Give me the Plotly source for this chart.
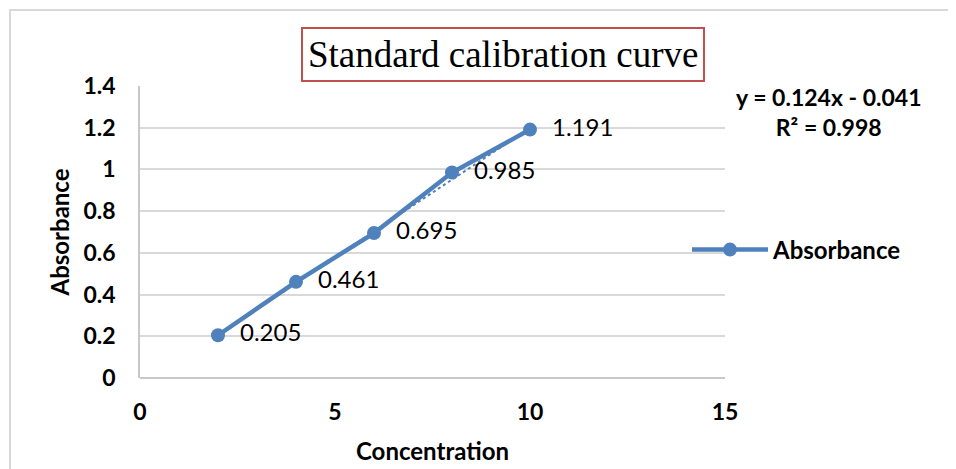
import plotly.graph_objects as go

# calibration data
concentration = [2, 4, 6, 8, 10]
absorbance = [0.205, 0.461, 0.695, 0.985, 1.191]
label_text = ["0.205", "0.461", "0.695", "0.985", "1.191"]
y_ticks = [0, 0.2, 0.4, 0.6, 0.8, 1, 1.2, 1.4]
x_ticks = [0, 5, 10, 15]
# trendline as reported on the chart
slope, intercept, r2 = 0.124, -0.041, 0.998

BLUE = "#4F81BD"
FONT = "Lato"

# page has an 8px body margin, so work in screen pixels and shift
OFF = 8
W, H = 956 - OFF, 469 - OFF
L, T = 140 - OFF, 86 - OFF
R, B = W - (725 - OFF), H - (378 - OFF)
pw, ph = W - L - R, H - T - B


def px_x(p):
    return (p - OFF - L) / pw


def px_y(p):
    return 1 - (p - OFF - T) / ph


trend_x = [concentration[0], concentration[-1]]
trend_y = [slope * v + intercept for v in trend_x]

fig = go.Figure()
fig.add_trace(go.Scatter(
    x=trend_x, y=trend_y, mode="lines",
    line=dict(color=BLUE, width=2, dash="dot"),
    showlegend=False, hoverinfo="skip",
))
fig.add_trace(go.Scatter(
    x=concentration, y=absorbance, name="Absorbance",
    mode="lines+markers+text",
    line=dict(color=BLUE, width=4.5),
    marker=dict(color=BLUE, size=14),
    text=["  " + t for t in label_text],
    textposition="middle right",
    textfont=dict(family=FONT, size=24, color="black"),
))

fig.update_layout(
    width=W, height=H,
    margin=dict(l=L, r=R, t=T, b=B),
    paper_bgcolor="white", plot_bgcolor="white",
    font=dict(family=FONT, color="black"),
    xaxis=dict(
        range=[0, 15], tickvals=x_ticks, showgrid=False, zeroline=False,
        showline=False, ticks="", ticklabelstandoff=18, automargin=False,
        tickfont=dict(family=FONT, size=23, weight="bold"),
        title=dict(text="Concentration", standoff=19,
                   font=dict(family=FONT, size=24, weight="bold")),
    ),
    yaxis=dict(
        range=[0, 1.4], tickvals=y_ticks, showgrid=True, gridcolor="#d9d9d9",
        gridwidth=1.5, zeroline=True, zerolinecolor="#c8c8c8", zerolinewidth=1.5,
        showline=True, linecolor="#c8c8c8", linewidth=1.5, ticks="",
        ticklabelstandoff=18, automargin=False,
        tickfont=dict(family=FONT, size=23, weight="bold"),
        title=dict(text="Absorbance", standoff=7,
                   font=dict(family=FONT, size=24, weight="bold")),
    ),
    legend=dict(
        x=px_x(687), y=px_y(250), xanchor="left", yanchor="middle",
        font=dict(family=FONT, size=24, weight="bold"), itemwidth=76,
        bgcolor="rgba(0,0,0,0)",
    ),
    showlegend=True,
)

# title box
fig.add_annotation(
    x=px_x(503), y=px_y(54), xref="paper", yref="paper",
    xanchor="center", yanchor="middle",
    text="Standard calibration curve", showarrow=False,
    font=dict(family="Liberation Serif", size=37, color="black"),
    bordercolor="#C0504D", borderwidth=2, borderpad=5, bgcolor="white",
)

# trendline equation
fig.add_annotation(
    x=px_x(828), y=px_y(112), xref="paper", yref="paper",
    xanchor="center", yanchor="middle",
    text=f"y = {slope:.3f}x - {abs(intercept):.3f}<br>R² = {r2:.3f}",
    showarrow=False, align="center",
    font=dict(family=FONT, size=23, weight="bold", color="black"),
)

# outer chart frame
fig.add_shape(
    type="rect", xref="paper", yref="paper",
    x0=px_x(10), x1=px_x(980), y0=px_y(490), y1=px_y(10),
    line=dict(color="#d9d9d9", width=2), layer="below",
)

fig.write_html("out.html")
